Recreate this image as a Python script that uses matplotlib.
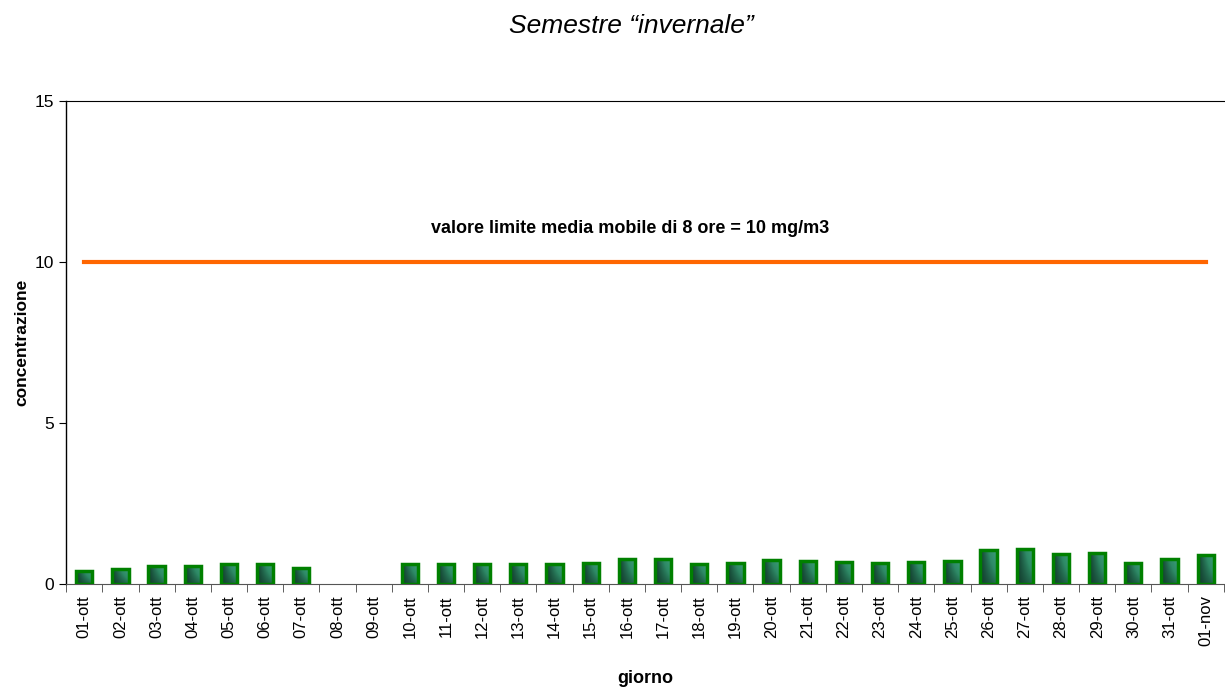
import numpy as np
import matplotlib
matplotlib.use('Agg')
from matplotlib import pyplot as plt

plt.rcParams['font.family'] = ['Liberation Sans', 'DejaVu Sans']

giorni = ['01-ott', '02-ott', '03-ott', '04-ott', '05-ott', '06-ott', '07-ott', '08-ott',
          '09-ott', '10-ott', '11-ott', '12-ott', '13-ott', '14-ott', '15-ott', '16-ott',
          '17-ott', '18-ott', '19-ott', '20-ott', '21-ott', '22-ott', '23-ott', '24-ott',
          '25-ott', '26-ott', '27-ott', '28-ott', '29-ott', '30-ott', '31-ott', '01-nov']
# 08-ott e 09-ott senza dato
concentrazione = [0.40, 0.47, 0.57, 0.56, 0.64, 0.61, 0.51, np.nan,
                  np.nan, 0.61, 0.62, 0.62, 0.64, 0.64, 0.66, 0.77,
                  0.77, 0.63, 0.67, 0.75, 0.71, 0.69, 0.66, 0.69,
                  0.72, 1.06, 1.08, 0.95, 0.97, 0.66, 0.79, 0.89]
limite = 10
etichetta_limite = 'valore limite media mobile di 8 ore = 10 mg/m3'

fig = plt.figure(figsize=(12.25, 6.88), dpi=100)
ax = fig.add_axes([0.054, 0.151, 0.945, 0.702])

x = np.arange(len(giorni))
valori = np.array(concentrazione)
ok = ~np.isnan(valori)
bars = ax.bar(x[ok], valori[ok], width=0.45, facecolor='none', edgecolor='#008000',
              linewidth=2.5, zorder=3)

# gradient fill inside each bar
grad = np.linspace(0, 1, 64).reshape(1, -1) * np.linspace(0.3, 1, 64).reshape(-1, 1)
cmap = matplotlib.colors.LinearSegmentedColormap.from_list('g', ['#123a2c', '#2e8a66', '#3da07a'])
for b, v in zip(bars, valori[ok]):
    im = ax.imshow(grad, cmap=cmap, origin='lower', aspect='auto',
                   extent=[b.get_x(), b.get_x() + b.get_width(), 0, v], zorder=2)
    im.set_clip_path(b)

ax.plot([x[0], x[-1]], [limite, limite], color='#ff6600', linewidth=3, zorder=4)
ax.text(15.1, 11.05, etichetta_limite, ha='center', va='center', fontsize=13, fontweight='bold')

ax.set_xlim(-0.5, len(giorni) - 0.5)
ax.set_ylim(0, 15)
ax.set_yticks([0, 5, 10, 15])
ax.tick_params(axis='y', labelsize=12.5, length=5, direction='out')

ax.set_xticks(x)
ax.set_xticklabels(giorni, rotation=90, fontsize=12)
ax.tick_params(axis='x', which='major', length=0, pad=8)
ax.set_xticks(np.arange(len(giorni) + 1) - 0.5, minor=True)
ax.tick_params(axis='x', which='minor', length=6, color='#444444')

ax.spines['right'].set_visible(False)
ax.spines['top'].set_linewidth(0.8)
ax.spines['left'].set_linewidth(1.0)
ax.spines['bottom'].set_color('#555555')

ax.set_xlabel('giorno', fontsize=13, fontweight='bold', labelpad=17)
ax.set_ylabel('concentrazione', fontsize=12.5, fontweight='bold', labelpad=4)

fig.text(0.515, 0.962, 'Semestre \u201cinvernale\u201d', ha='center', va='center',
         fontsize=19, fontstyle='italic')

fig.savefig('out.png', dpi=100)
